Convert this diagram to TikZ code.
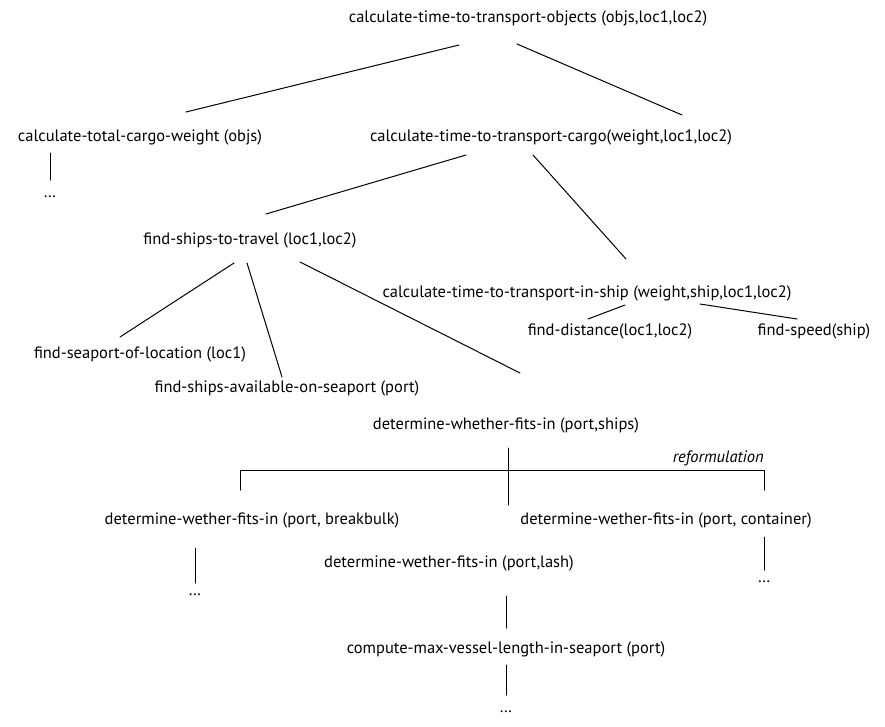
\documentclass[tikz,border=0pt]{standalone}
\usepackage{fontspec}
\setmainfont{PT Sans}
\usetikzlibrary{calc}
\begin{document}
\begin{tikzpicture}[x=1pt,y=-1pt,
  lbl/.style={inner sep=0pt, font=\fontsize{16.5}{18}\selectfont},
  edge/.style={line width=1pt, line cap=round}]
\useasboundingbox (0,0) rectangle (885,726);
% nodes
\node[lbl] (root) at (528,18) {calculate-time-to-transport-objects (objs,loc1,loc2)};
\node[lbl] (tcw) at (140,137) {calculate-total-cargo-weight (objs)};
\node[lbl] (ttc) at (551,137) {calculate-time-to-transport-cargo(weight,loc1,loc2)};
\node[lbl] (d1) at (50,197) {\dots};
\node[lbl] (fst) at (250,240) {find-ships-to-travel (loc1,loc2)};
\node[lbl] (ship) at (587,293) {calculate-time-to-transport-in-ship (weight,ship,loc1,loc2)};
\node[lbl] (dist) at (610,331) {find-distance(loc1,loc2)};
\node[lbl] (speed) at (814,331) {find-speed(ship)};
\node[lbl] (sea) at (140,354) {find-seaport-of-location (loc1)};
\node[lbl] (avail) at (287,388) {find-ships-available-on-seaport (port)};
\node[lbl] (dw) at (506,425) {determine-whether-fits-in (port,ships)};
\node[lbl] (bb) at (252,520) {determine-wether-fits-in (port, breakbulk)};
\node[lbl] (ct) at (666,520) {determine-wether-fits-in (port, container)};
\node[lbl] (lash) at (449,563) {determine-wether-fits-in (port,lash)};
\node[lbl] (d2) at (195,595) {\dots};
\node[lbl] (d3) at (764,582) {\dots};
\node[lbl] (cmp) at (506,649) {compute-max-vessel-length-in-seaport (port)};
\node[lbl] (d4) at (506,712) {\dots};
% connectors
\draw[edge] ($(root.center)+(-69,27)$) -- ($(tcw.center)+(46,-25)$);
\draw[edge] ($(root.center)+(-11,26)$) -- ($(ttc.center)+(131,-22)$);
\draw[edge] ($(d1.center)+(0,-44)$) -- ($(d1.center)+(0,-17)$);
\draw[edge] ($(ttc.center)+(-85,18)$) -- ($(fst.center)+(16,-26)$);
\draw[edge] ($(ttc.center)+(-18,18)$) -- ($(ship.center)+(39,-34)$);
\draw[edge] ($(fst.center)+(-16,23)$) -- ($(sea.center)+(-20,-17)$);
\draw[edge] ($(fst.center)+(-3,23)$) -- ($(avail.center)+(-5,-11)$);
\draw[edge] ($(fst.center)+(50,22)$) -- ($(dw.center)+(14,-52)$);
\draw[edge] ($(ship.center)+(38,12)$) -- ($(dist.center)+(-22,-12)$);
\draw[edge] ($(ship.center)+(113,11)$) -- ($(speed.center)+(-17,-12)$);
% reformulation bracket
\coordinate (bl) at ($(bb.center)+(-12,-50)$);
\coordinate (br) at ($(ct.center)+(98,-50)$);
\draw[edge] ($(bb.center)+(-12,-30)$) -- (bl) -- (br) -- ($(ct.center)+(98,-30)$);
\node[lbl, anchor=south east, font=\fontsize{16.5}{18}\selectfont\itshape, yshift=4pt] (ref) at (br) {reformulation};
\draw[edge] ($(dw.center)+(2,23)$) -- ($(lash.center)+(59,-58)$);
\draw[edge] ($(d2.center)+(0,-47)$) -- ($(d2.center)+(0,-12)$);
\draw[edge] ($(d3.center)+(0,-45)$) -- ($(d3.center)+(0,-12)$);
\draw[edge] ($(lash.center)+(57,33)$) -- ($(cmp.center)+(0,-21)$);
\draw[edge] ($(cmp.center)+(0,16)$) -- ($(d4.center)+(0,-17)$);
\end{tikzpicture}
\end{document}
